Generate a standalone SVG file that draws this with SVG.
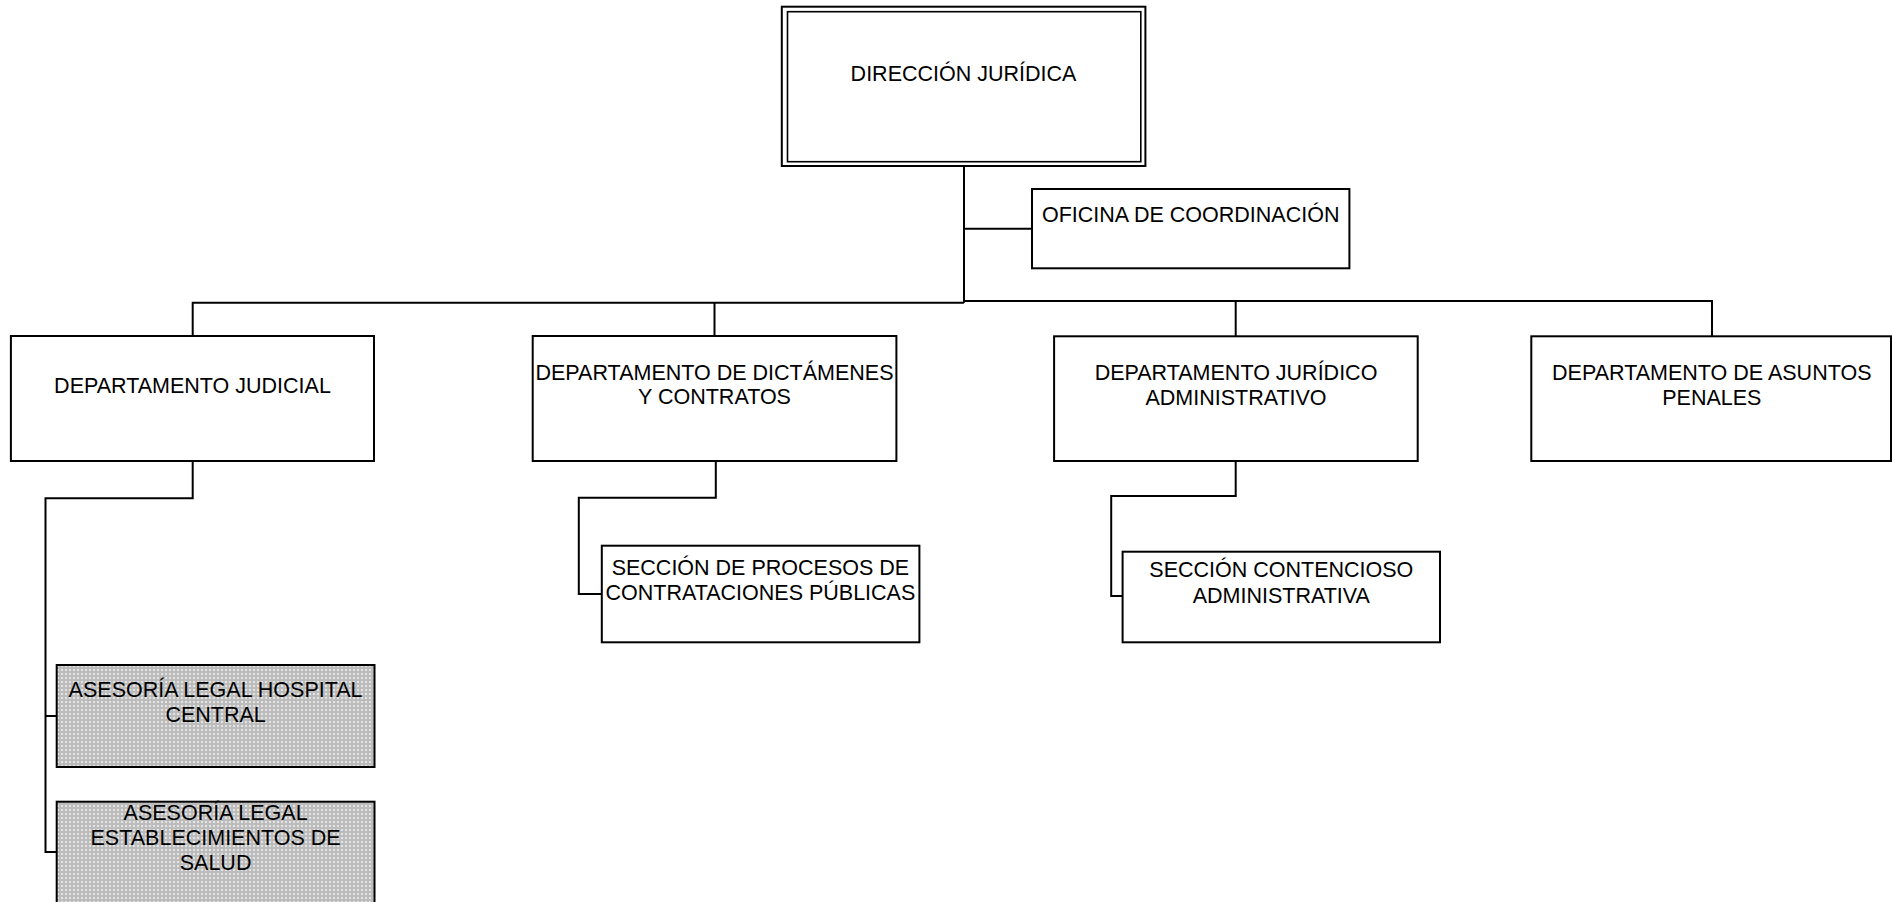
<svg xmlns="http://www.w3.org/2000/svg" width="1892" height="902" viewBox="0 0 1892 902">
<style>
.box{fill:#fff;stroke:#000;stroke-width:2}
.shaded{fill:url(#dots);stroke:#000;stroke-width:2}
.dbl{fill:none;stroke:#000;stroke-width:1.6}
.conn{fill:none;stroke:#000;stroke-width:2}
text{font-family:"Liberation Sans",Arial,sans-serif;font-size:21.5px;fill:#000;text-anchor:middle}
</style>
<defs>
<pattern id="dots" width="4" height="4" patternUnits="userSpaceOnUse">
<rect width="4" height="4" fill="#bcbcbc"/>
<rect x="1" y="1" width="2" height="2" fill="#e4e4e4"/>
</pattern>
</defs>
<rect width="1892" height="902" fill="#fff"/>
<g id="connectors">
<path class="conn" d="M964 166 V302.7"/>
<path class="conn" d="M192.7 336 V302.7 H964"/>
<path class="conn" d="M964 301 H1712 V336"/>
<path class="conn" d="M1235.7 301 V336"/>
<path class="conn" d="M714.5 302.7 V336"/>
<path class="conn" d="M964 228.7 H1032"/>
<path class="conn" d="M192.7 461 V498.3 H45.5 V852 H56.7"/>
<path class="conn" d="M45.5 716 H56.7"/>
<path class="conn" d="M715.8 461 V497.7 H578.8 V594 H601.8"/>
<path class="conn" d="M1235.7 461 V496 H1111.2 V596 H1122.6"/>
</g>
<g id="direccion">
<rect class="box" x="781.8" y="6.7" width="363.6" height="159.3"/>
<rect class="dbl" x="787.5" y="11.7" width="353.3" height="150"/>
<text x="963.5" y="81">DIRECCIÓN JURÍDICA</text>
</g>
<g id="oficina">
<rect class="box" x="1032" y="189" width="317.4" height="79.3"/>
<text x="1190.7" y="222">OFICINA DE COORDINACIÓN</text>
</g>
<g id="dept-judicial">
<rect class="box" x="10.9" y="336" width="363.1" height="125"/>
<text x="192.5" y="392.5">DEPARTAMENTO JUDICIAL</text>
</g>
<g id="dept-dictamenes">
<rect class="box" x="532.7" y="336" width="363.7" height="125"/>
<text x="714.5" y="379.5">DEPARTAMENTO DE DICTÁMENES</text>
<text x="714.5" y="404.3">Y CONTRATOS</text>
</g>
<g id="dept-juridico">
<rect class="box" x="1054.1" y="336.3" width="363.6" height="124.7"/>
<text x="1236" y="380">DEPARTAMENTO JURÍDICO</text>
<text x="1236" y="404.5">ADMINISTRATIVO</text>
</g>
<g id="dept-penales">
<rect class="box" x="1531.3" y="336.3" width="359.7" height="124.7"/>
<text x="1711.8" y="380">DEPARTAMENTO DE ASUNTOS</text>
<text x="1711.8" y="404.5">PENALES</text>
</g>
<g id="seccion-procesos">
<rect class="box" x="601.8" y="545.7" width="317.6" height="96.6"/>
<text x="760.4" y="575">SECCIÓN DE PROCESOS DE</text>
<text x="760.4" y="600">CONTRATACIONES PÚBLICAS</text>
</g>
<g id="seccion-contencioso">
<rect class="box" x="1122.6" y="551.7" width="317.4" height="90.6"/>
<text x="1281.3" y="577.3">SECCIÓN CONTENCIOSO</text>
<text x="1281.3" y="602.7">ADMINISTRATIVA</text>
</g>
<g id="asesoria-hospital">
<rect class="shaded" x="56.7" y="665" width="317.8" height="102"/>
<text x="215.6" y="696.7">ASESORÍA LEGAL HOSPITAL</text>
<text x="215.6" y="721.7">CENTRAL</text>
</g>
<g id="asesoria-establecimientos">
<rect class="shaded" x="56.7" y="801.7" width="317.8" height="110"/>
<text x="215.6" y="820">ASESORÍA LEGAL</text>
<text x="215.6" y="845">ESTABLECIMIENTOS DE</text>
<text x="215.6" y="870">SALUD</text>
</g>
</svg>
